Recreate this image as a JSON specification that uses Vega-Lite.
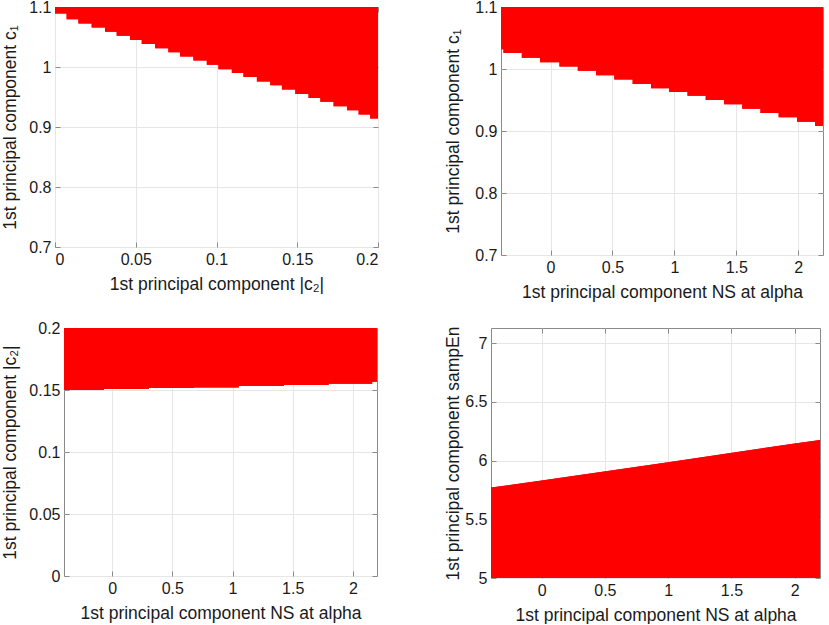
{
  "$schema": "https://vega.github.io/schema/vega-lite/v6.json",
  "padding": {"left": 0, "top": -2, "right": 2, "bottom": 0},
  "background": "white",
  "config": {
    "view": {"stroke": "#8a8a8a", "strokeWidth": 1},
    "axis": {
      "grid": true, "gridColor": "#e6e6e6", "domain": false,
      "tickColor": "#8a8a8a", "tickSize": -5, "labelPadding": 9,
      "labelFont": "Liberation Sans", "titleFont": "Liberation Sans",
      "labelFontSize": 16, "titleFontSize": 17.5, "titleFontWeight": "normal",
      "labelColor": "#1a1a1a", "titleColor": "#1a1a1a", "format": "~g", "titlePadding": 9
    },
    "axisX": {"titlePadding": 8},
    "area": {"color": "#ff0000", "interpolate": "step-after"}
  },
  "datasets": {
    "spacer": [{"x": 0}],
    "p1": [
      {"x": 0, "y": 1.089}, {"x": 0.0072, "y": 1.0796}, {"x": 0.0145, "y": 1.0725}, {"x": 0.0227, "y": 1.0658},
      {"x": 0.031, "y": 1.0587}, {"x": 0.0382, "y": 1.0521}, {"x": 0.0465, "y": 1.045}, {"x": 0.0537, "y": 1.0383},
      {"x": 0.062, "y": 1.0311}, {"x": 0.0702, "y": 1.0245}, {"x": 0.0775, "y": 1.0174}, {"x": 0.0857, "y": 1.0107},
      {"x": 0.094, "y": 1.0036}, {"x": 0.1012, "y": 0.9964}, {"x": 0.1095, "y": 0.9898}, {"x": 0.1167, "y": 0.9832},
      {"x": 0.125, "y": 0.976}, {"x": 0.1333, "y": 0.9694}, {"x": 0.1405, "y": 0.9623}, {"x": 0.1488, "y": 0.9551},
      {"x": 0.157, "y": 0.9485}, {"x": 0.1643, "y": 0.9419}, {"x": 0.1725, "y": 0.9347}, {"x": 0.1808, "y": 0.9281},
      {"x": 0.188, "y": 0.9209}, {"x": 0.1952, "y": 0.9143}, {"x": 0.2, "y": 0.9143}
    ],
    "p2": [
      {"x": -0.4, "y": 1.032}, {"x": -0.38, "y": 1.026}, {"x": -0.232, "y": 1.018}, {"x": -0.085, "y": 1.011},
      {"x": 0.072, "y": 1.004}, {"x": 0.22, "y": 0.997}, {"x": 0.368, "y": 0.99}, {"x": 0.515, "y": 0.983},
      {"x": 0.663, "y": 0.976}, {"x": 0.811, "y": 0.969}, {"x": 0.958, "y": 0.963}, {"x": 1.106, "y": 0.957},
      {"x": 1.253, "y": 0.95}, {"x": 1.401, "y": 0.943}, {"x": 1.548, "y": 0.936}, {"x": 1.695, "y": 0.929},
      {"x": 1.842, "y": 0.922}, {"x": 1.99, "y": 0.915}, {"x": 2.137, "y": 0.908}, {"x": 2.2, "y": 0.908}
    ],
    "p3": [
      {"x": -0.4, "y": 0.15}, {"x": -0.069, "y": 0.1508}, {"x": 0.305, "y": 0.1516}, {"x": 0.678, "y": 0.1521},
      {"x": 1.051, "y": 0.1532}, {"x": 1.425, "y": 0.154}, {"x": 1.798, "y": 0.155}, {"x": 2.16, "y": 0.1566},
      {"x": 2.2, "y": 0.1566}
    ],
    "p4": [
      {"x": -0.4, "y": 5.77}, {"x": 0, "y": 5.83}, {"x": 1, "y": 5.986}, {"x": 2, "y": 6.147}, {"x": 2.2, "y": 6.175}
    ]
  },
  "columns": 2,
  "spacing": {"row": 18, "column": 65},
  "align": {"row": "each", "column": "none"},
  "concat": [
    {
      "spacing": 0,
      "hconcat": [
        {
          "width": 1, "height": 1, "view": {"stroke": null},
          "data": {"name": "spacer"},
          "mark": {"type": "point", "opacity": 0, "size": 0, "strokeWidth": 0},
          "encoding": {}
        },
        {
          "width": 323, "height": 240,
          "data": {"name": "p1"},
          "layer": [
            {
              "mark": {"type": "area", "clip": true},
              "encoding": {
                "x": {"field": "x", "type": "quantitative", "scale": {"domain": [0, 0.2], "nice": false, "zero": false},
                      "axis": {"values": [0, 0.05, 0.1, 0.15, 0.2], "title": "1st principal component |c₂|"}},
                "y": {"field": "y", "type": "quantitative", "scale": {"domain": [0.7, 1.1], "nice": false, "zero": false},
                      "axis": {"values": [0.7, 0.8, 0.9, 1, 1.1], "title": "1st principal component c₁"}},
                "y2": {"datum": 1.1}
              }
            },
            {
              "mark": {"type": "area", "clip": true},
              "encoding": {
                "x": {"field": "x", "type": "quantitative",
                      "axis": {"orient": "top", "values": [0, 0.05, 0.1, 0.15, 0.2], "labels": false, "grid": false, "title": null}},
                "y": {"field": "y", "type": "quantitative",
                      "axis": {"orient": "right", "values": [0.7, 0.8, 0.9, 1, 1.1], "labels": false, "grid": false, "title": null}},
                "y2": {"datum": 1.1}
              }
            }
          ],
          "resolve": {"axis": {"x": "independent", "y": "independent"}}
        }
      ]
    },
    {
      "width": 322, "height": 248,
      "data": {"name": "p2"},
      "layer": [
        {
          "mark": {"type": "area", "clip": true},
          "encoding": {
            "x": {"field": "x", "type": "quantitative", "scale": {"domain": [-0.4, 2.2], "nice": false, "zero": false},
                  "axis": {"values": [0, 0.5, 1, 1.5, 2], "title": "1st principal component NS at alpha"}},
            "y": {"field": "y", "type": "quantitative", "scale": {"domain": [0.7, 1.1], "nice": false, "zero": false},
                  "axis": {"values": [0.7, 0.8, 0.9, 1, 1.1], "title": "1st principal component c₁", "titlePadding": 12}},
            "y2": {"datum": 1.1}
          }
        },
        {
          "mark": {"type": "area", "clip": true},
          "encoding": {
            "x": {"field": "x", "type": "quantitative",
                  "axis": {"orient": "top", "values": [0, 0.5, 1, 1.5, 2], "labels": false, "grid": false, "title": null}},
            "y": {"field": "y", "type": "quantitative",
                  "axis": {"orient": "right", "values": [0.7, 0.8, 0.9, 1, 1.1], "labels": false, "grid": false, "title": null}},
            "y2": {"datum": 1.1}
          }
        }
      ],
      "resolve": {"axis": {"x": "independent", "y": "independent"}}
    },
    {
      "spacing": 0,
      "hconcat": [
        {
          "width": 1, "height": 1, "view": {"stroke": null},
          "data": {"name": "spacer"},
          "mark": {"type": "point", "opacity": 0, "size": 0, "strokeWidth": 0},
          "encoding": {}
        },
        {
          "width": 313, "height": 248,
          "data": {"name": "p3"},
          "layer": [
            {
              "mark": {"type": "area", "clip": true},
              "encoding": {
                "x": {"field": "x", "type": "quantitative", "scale": {"domain": [-0.4, 2.2], "nice": false, "zero": false},
                      "axis": {"values": [0, 0.5, 1, 1.5, 2], "title": "1st principal component NS at alpha"}},
                "y": {"field": "y", "type": "quantitative", "scale": {"domain": [0, 0.2], "nice": false, "zero": false},
                      "axis": {"values": [0, 0.05, 0.1, 0.15, 0.2], "title": "1st principal component |c₂|", "titlePadding": 9}},
                "y2": {"datum": 0.2}
              }
            },
            {
              "mark": {"type": "area", "clip": true},
              "encoding": {
                "x": {"field": "x", "type": "quantitative",
                      "axis": {"orient": "top", "values": [0, 0.5, 1, 1.5, 2], "labels": false, "grid": false, "title": null}},
                "y": {"field": "y", "type": "quantitative",
                      "axis": {"orient": "right", "values": [0, 0.05, 0.1, 0.15, 0.2], "labels": false, "grid": false, "title": null}},
                "y2": {"datum": 0.2}
              }
            }
          ],
          "resolve": {"axis": {"x": "independent", "y": "independent"}}
        }
      ]
    },
    {
      "width": 329, "height": 250,
      "data": {"name": "p4"},
      "layer": [
        {
          "mark": {"type": "area", "clip": true, "interpolate": "linear"},
          "encoding": {
            "x": {"field": "x", "type": "quantitative", "scale": {"domain": [-0.4, 2.2], "nice": false, "zero": false},
                  "axis": {"values": [0, 0.5, 1, 1.5, 2], "title": "1st principal component NS at alpha"}},
            "y": {"field": "y", "type": "quantitative", "scale": {"domain": [5, 7.13], "nice": false, "zero": false},
                  "axis": {"values": [5, 5.5, 6, 6.5, 7], "title": "1st principal component sampEn", "titlePadding": 2}},
            "y2": {"datum": 5}
          }
        },
        {
          "mark": {"type": "area", "clip": true, "interpolate": "linear"},
          "encoding": {
            "x": {"field": "x", "type": "quantitative",
                  "axis": {"orient": "top", "values": [0, 0.5, 1, 1.5, 2], "labels": false, "grid": false, "title": null}},
            "y": {"field": "y", "type": "quantitative",
                  "axis": {"orient": "right", "values": [5, 5.5, 6, 6.5, 7], "labels": false, "grid": false, "title": null}},
            "y2": {"datum": 5}
          }
        }
      ],
      "resolve": {"axis": {"x": "independent", "y": "independent"}}
    }
  ]
}
